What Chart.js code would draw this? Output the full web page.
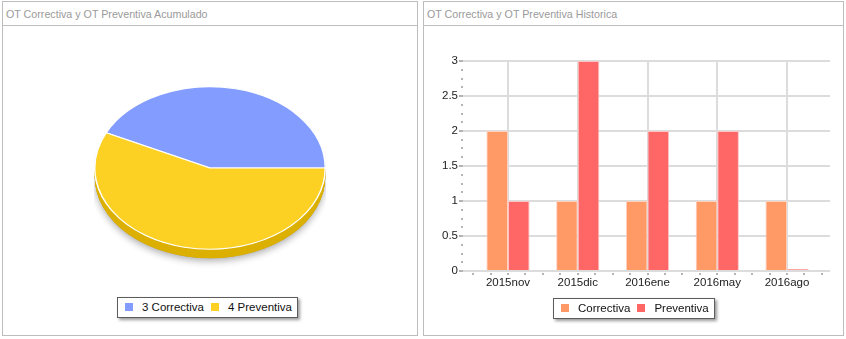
<!DOCTYPE html>
<html>
<head>
<meta charset="utf-8">
<script src="https://cdn.jsdelivr.net/npm/chart.js@4/dist/chart.umd.min.js"></script>
<style>
body{margin:0;background:#fff;font-family:"Liberation Sans",Arial,sans-serif;}
.panel{position:absolute;top:1px;height:335px;border:1px solid #bdbdbd;box-sizing:border-box;}
.head{height:23px;border-bottom:1px solid #bdbdbd;color:#9a9a9a;font-size:10.7px;line-height:24px;padding-left:3px;white-space:nowrap;}
.legend{position:absolute;border:1px solid #5c5c5c;background:#fff;box-shadow:2px 2px 3px rgba(0,0,0,.4);font-size:11.5px;color:#111;height:19px;line-height:19px;white-space:nowrap;box-sizing:border-box;height:21px;}
.legend span{display:inline-block;}
.sw{width:6px;height:6px;border:1px solid;margin:0 9px 0 7px;vertical-align:0px;}
canvas{position:absolute;}
</style>
</head>
<body>
<div class="panel" style="left:2px;width:416px"><div class="head">OT Correctiva y OT Preventiva Acumulado</div></div>
<div class="panel" style="left:423px;width:421px"><div class="head">OT Correctiva y OT Preventiva Historica</div></div>
<canvas id="pie" width="232" height="232" style="left:94px;top:52px"></canvas>
<canvas id="bars" width="418" height="270" style="left:424px;top:26px"></canvas>
<div class="legend" id="pieLegend" style="left:117px;top:297px"></div>
<div class="legend" id="barLegend" style="left:553px;top:298px"></div>
<script>
// data
const pieLabels = ['Correctiva', 'Preventiva'];
const pieValues = [3, 4];
const months = ['2015nov', '2015dic', '2016ene', '2016may', '2016ago'];
const correctiva = [2, 1, 1, 1, 1];
const preventiva = [1, 3, 2, 2, 0];

const pieColors = ['#829dff', '#fcd124'];
const pieSide = ['#6079d8', '#dcb000'];
const barColors = ['#ff9966', '#ff6666'];

Chart.defaults.font.family = '"Liberation Sans", Arial, sans-serif';
Chart.defaults.color = '#222';

// fake 3d: squash the pie into an ellipse and paint a darker side below it
const tilt = {
    id: 'tilt',
    beforeDatasetsDraw(chart, args, opts) {
        const ctx = chart.ctx;
        const arcs = chart.getDatasetMeta(0).data;
        const k = opts.ratio;
        const cy = arcs[0].y;
        const depth = opts.depth / k;
        ctx.save();
        ctx.translate(0, cy * (1 - k));
        ctx.scale(1, k);
        ctx.save();
        ctx.shadowColor = 'rgba(0,0,0,0.3)';
        ctx.shadowBlur = 7;
        ctx.shadowOffsetY = 3;
        ctx.fillStyle = '#999';
        ctx.beginPath();
        ctx.arc(arcs[0].x, cy + depth, arcs[0].outerRadius, 0, Math.PI * 2);
        ctx.fill();
        ctx.restore();
        arcs.forEach((a, i) => {
            ctx.fillStyle = pieSide[i];
            for (let off = depth; off > 0; off -= 0.5) {
                ctx.beginPath();
                ctx.moveTo(a.x, a.y + off);
                ctx.arc(a.x, a.y + off, a.outerRadius, a.startAngle, a.endAngle);
                ctx.closePath();
                ctx.fill();
            }
        });
    },
    afterDatasetsDraw(chart) {
        chart.ctx.restore();
    }
};

const total = pieValues.reduce((s, v) => s + v, 0);
new Chart(document.getElementById('pie'), {
    type: 'pie',
    data: {
        labels: pieLabels,
        datasets: [{
            data: pieValues,
            backgroundColor: pieColors,
            borderColor: '#ffffff',
            borderWidth: 1.5,
            hoverOffset: 0,
            clip: false,
        }],
    },
    options: {
        responsive: false,
        animation: false,
        events: [],
        rotation: 90 - pieValues[0] / total * 360,
        plugins: {
            legend: { display: false },
            tooltip: { enabled: false },
            tilt: { ratio: 0.705, depth: 9 },
        },
    },
    plugins: [tilt],
});

// small dotted minor ticks on both axes
const minorTicks = {
    id: 'minorTicks',
    afterDraw(chart) {
        const { ctx, chartArea, scales } = chart;
        ctx.save();
        ctx.fillStyle = '#b5b5b5';
        for (let v = 0; v <= 3.001; v += 0.125) {
            ctx.fillRect(chartArea.left - 2, Math.round(scales.y.getPixelForValue(v)) - 1, 2, 2);
        }
        for (let v = -0.5; v <= 4.501; v += 0.25) {
            ctx.fillRect(Math.round(scales.x.getPixelForValue(v)) - 1, chartArea.bottom + 2, 2, 2);
        }
        ctx.restore();
    }
};

new Chart(document.getElementById('bars'), {
    type: 'bar',
    data: {
        datasets: [{
            label: 'Correctiva',
            data: correctiva.map((v, i) => ({ x: i, y: v })),
            backgroundColor: barColors[0],
            borderColor: '#ffd2c0',
            borderWidth: 1,
        }, {
            label: 'Preventiva',
            data: preventiva.map((v, i) => ({ x: i, y: v })),
            backgroundColor: barColors[1],
            borderColor: '#ffc4c4',
            borderWidth: 1,
            minBarLength: 2,
        }],
    },
    options: {
        responsive: false,
        animation: false,
        events: [],
        layout: { padding: { top: 35, right: 12, left: 0, bottom: 0 } },
        datasets: { bar: { categoryPercentage: 0.62, barPercentage: 1 } },
        scales: {
            x: {
                type: 'linear',
                offset: false,
                min: -0.645,
                max: 4.616,
                afterFit(s) { s.height = 25; },
                afterBuildTicks(s) { s.ticks = months.map((m, i) => ({ value: i })); },
                border: { display: false },
                grid: { offset: false, color: '#dcdcdc', lineWidth: 2, drawTicks: false },
                ticks: {
                    stepSize: 1,
                    autoSkip: false,
                    maxRotation: 0,
                    padding: 5,
                    font: { size: 11.5 },
                    callback: v => months[v],
                },
            },
            y: {
                min: 0,
                max: 3,
                afterFit(s) { s.width = 39; },
                border: { display: false },
                grid: { color: '#dcdcdc', lineWidth: 2, tickColor: '#b0b0b0', tickLength: 4 },
                ticks: { stepSize: 0.5, padding: 1, font: { size: 11.5 }, callback: v => String(v) },
            },
        },
        plugins: {
            legend: { display: false },
            tooltip: { enabled: false },
        },
    },
    plugins: [minorTicks],
});

function fillLegend(el, names, colors) {
    names.forEach((n, i) => {
        const sw = document.createElement('span');
        sw.className = 'sw';
        sw.style.background = colors[i];
        sw.style.borderColor = colors[i] + '99';
        const tx = document.createElement('span');
        tx.textContent = n;
        el.appendChild(sw);
        el.appendChild(tx);
    });
    el.lastChild.style.marginRight = '5px';
}
fillLegend(document.getElementById('pieLegend'), pieLabels.map((l, i) => pieValues[i] + ' ' + l), pieColors);
fillLegend(document.getElementById('barLegend'), ['Correctiva', 'Preventiva'], barColors);
</script>
</body>
</html>
